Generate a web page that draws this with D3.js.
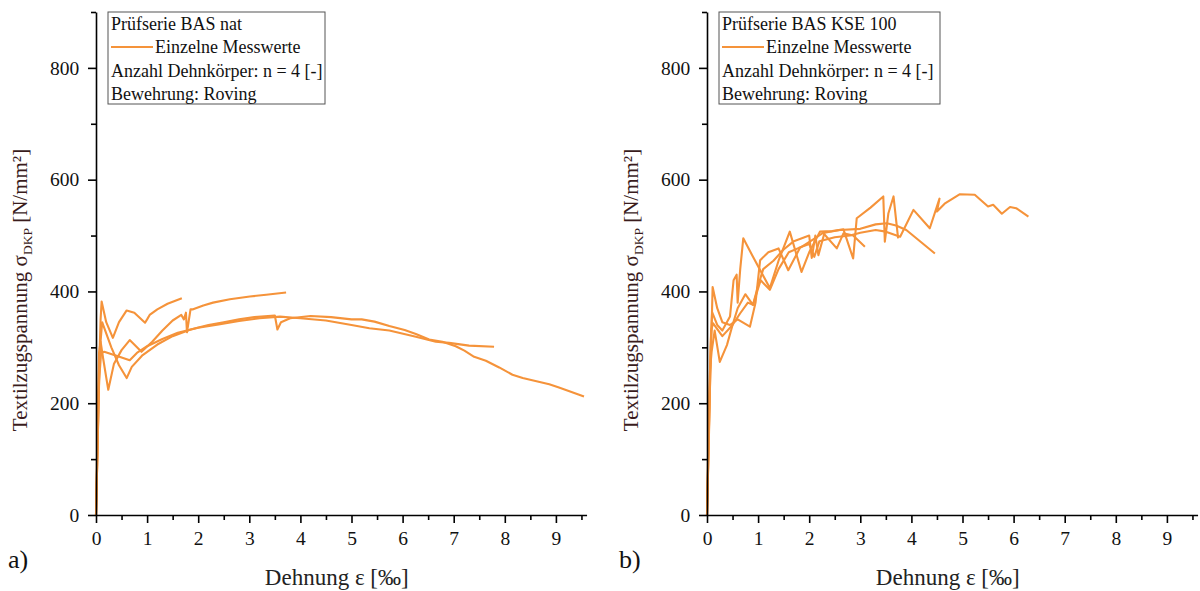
<!DOCTYPE html>
<html>
<head>
<meta charset="utf-8">
<script src="https://cdn.jsdelivr.net/npm/d3@7"></script>
<style>
  html, body { margin: 0; padding: 0; background: #fff; }
  svg { display: block; font-family: "Liberation Serif", "Times New Roman", serif; }
</style>
</head>
<body>
<svg id="chart" width="1200" height="591"></svg>
<script>
// Strain axis ticks [‰] and stress axis ticks [N/mm²]
const xMajorTicks = [0, 1, 2, 3, 4, 5, 6, 7, 8, 9];
const xMinorTicks = [0.5, 1.5, 2.5, 3.5, 4.5, 5.5, 6.5, 7.5, 8.5, 9.5];
const yMajorTicks = [0, 200, 400, 600, 800];
const yMinorTicks = [100, 300, 500, 700, 900];

// a) Prüfserie BAS nat – four specimens, [strain ‰, stress N/mm²]
const natSpecimen1 = [[0,0],[0.03,120],[0.06,260],[0.09,350],[0.11,382],[0.2,345],[0.33,317],[0.45,345],[0.6,366],[0.75,362],[0.96,344],[1.0,350],[1.05,358],[1.2,368],[1.4,378],[1.68,388]];
const natSpecimen2 = [[0,0],[0.02,80],[0.05,200],[0.08,300],[0.12,345],[0.3,300],[0.45,268],[0.6,245],[0.7,265],[0.9,285],[1.2,305],[1.5,320],[1.85,332],[2.2,340],[2.5,345],[2.8,350],[3.1,354],[3.5,357],[3.55,332],[3.62,345],[3.8,352],[4.2,356],[4.6,354],[5.0,350],[5.2,350],[5.45,346],[5.74,338],[6.04,331],[6.26,324],[6.52,314],[6.78,310],[7.04,302],[7.21,294],[7.4,283],[7.63,276],[7.89,264],[8.15,251],[8.35,245],[8.87,234],[9.06,228],[9.55,212]];
const natSpecimen3 = [[0,0],[0.03,150],[0.06,290],[0.09,310],[0.14,280],[0.24,224],[0.35,270],[0.5,295],[0.66,313],[0.89,292],[1.1,310],[1.3,330],[1.5,348],[1.67,358],[1.72,350],[1.76,362],[1.78,327],[1.85,368],[1.9,368],[2.1,375],[2.29,380],[2.62,386],[3.01,391],[3.33,394],[3.72,398]];
const natSpecimen4 = [[0,0],[0.03,120],[0.06,240],[0.1,290],[0.16,292],[0.4,285],[0.66,277],[0.8,290],[1.0,302],[1.3,315],[1.6,326],[2.0,335],[2.4,341],[2.8,347],[3.2,352],[3.6,355],[4.0,352],[4.5,348],[5.0,340],[5.35,334],[5.74,330],[6.26,319],[6.65,310],[6.91,308],[7.3,303],[7.79,301]];

// b) Prüfserie BAS KSE 100 – four specimens
const kseSpecimen1 = [[0,0],[0.02,80],[0.05,200],[0.08,300],[0.11,408],[0.2,370],[0.3,345],[0.45,340],[0.6,350],[0.84,337],[0.95,380],[1.04,456],[1.2,470],[1.4,477],[1.59,438],[1.82,478],[2.11,495],[2.27,505],[2.54,477],[2.67,504],[2.86,500],[3.09,480]];
const kseSpecimen2 = [[0,0],[0.03,120],[0.06,260],[0.09,292],[0.15,330],[0.25,274],[0.39,304],[0.5,340],[0.6,370],[0.75,395],[0.9,376],[1.0,410],[1.1,440],[1.3,455],[1.5,475],[1.7,490],[2.0,500],[2.05,460],[2.12,500],[2.18,465],[2.3,505],[2.6,510],[3.0,512],[3.3,520],[3.52,522],[3.7,518],[3.9,510],[4.46,468]];
const kseSpecimen3 = [[0,0],[0.03,150],[0.07,300],[0.1,363],[0.2,340],[0.3,330],[0.45,355],[0.52,420],[0.58,430],[0.6,380],[0.65,440],[0.71,495],[0.9,462],[1.23,406],[1.4,455],[1.62,507],[1.85,435],[2.0,470],[2.21,507],[2.45,508],[2.67,511],[2.86,459],[2.93,531],[3.2,550],[3.45,570],[3.48,489],[3.55,540],[3.65,570],[3.74,495]];
const kseSpecimen4 = [[0,0],[0.04,150],[0.08,330],[0.12,343],[0.3,320],[0.5,340],[0.65,361],[0.8,380],[0.9,376],[1.05,420],[1.23,403],[1.4,440],[1.6,470],[1.8,478],[2.0,485],[2.1,462],[2.2,490],[2.5,497],[2.8,500],[3.0,505],[3.3,510],[3.5,507],[3.78,498],[4.04,546],[4.36,513],[4.55,566],[4.5,543],[4.65,557],[4.95,574],[5.24,573],[5.5,552],[5.6,555],[5.77,539],[5.93,551],[6.05,549],[6.29,534]];

const legendTitles = ["Prüfserie BAS nat", "Prüfserie BAS KSE 100"];
const panelLabels = ["a)", "b)"];

const panels = [
  { left: 96,  series: [natSpecimen1, natSpecimen2, natSpecimen3, natSpecimen4], title: legendTitles[0], tag: panelLabels[0], boxWidth: 217 },
  { left: 707, series: [kseSpecimen1, kseSpecimen2, kseSpecimen3, kseSpecimen4], title: legendTitles[1], tag: panelLabels[1], boxWidth: 221 }
];

const svg = d3.select("#chart");
const lineColor = "#F5933A";
const plotTop = 12, plotBottom = 515;
const unitWidth = 51.1;

panels.forEach(p => {
  const x = d3.scaleLinear().domain([0, 9.6]).range([p.left, p.left + 9.6 * unitWidth]);
  const y = d3.scaleLinear().domain([0, 900]).range([plotBottom, plotTop]);
  const g = svg.append("g");

  // measurement curves
  const line = d3.line().x(d => x(d[0])).y(d => y(d[1]));
  g.selectAll("path.curve").data(p.series).join("path")
    .attr("class", "curve")
    .attr("d", line)
    .attr("fill", "none")
    .attr("stroke", lineColor)
    .attr("stroke-width", 2.1)
    .attr("stroke-linejoin", "round");

  // x axis
  const xAxis = g.append("g").attr("transform", `translate(0,${plotBottom})`)
    .call(d3.axisBottom(x).tickValues(xMajorTicks).tickSize(8).tickSizeOuter(0).tickFormat(d3.format("d")));
  g.append("g").attr("transform", `translate(0,${plotBottom})`)
    .call(d3.axisBottom(x).tickValues(xMinorTicks).tickSize(5).tickSizeOuter(0).tickFormat(""))
    .call(a => a.select(".domain").remove());

  // y axis
  const yAxis = g.append("g").attr("transform", `translate(${p.left},0)`)
    .call(d3.axisLeft(y).tickValues(yMajorTicks).tickSize(8).tickSizeOuter(0).tickFormat(d3.format("d")));
  g.append("g").attr("transform", `translate(${p.left},0)`)
    .call(d3.axisLeft(y).tickValues(yMinorTicks).tickSize(5).tickSizeOuter(0).tickFormat(""))
    .call(a => a.select(".domain").remove());

  g.selectAll(".domain, .tick line").attr("stroke", "#000").attr("stroke-width", 1.6);
  xAxis.selectAll("text").attr("font-size", 19.5).attr("fill", "#111").attr("dy", "0.95em").attr("font-family", "Liberation Serif");
  yAxis.selectAll("text").attr("font-size", 19.5).attr("fill", "#111").attr("dx", "-0.3em").attr("font-family", "Liberation Serif");

  // axis titles
  g.append("text")
    .attr("x", p.left + 4.75 * unitWidth - 2)
    .attr("y", 585)
    .attr("text-anchor", "middle")
    .attr("font-size", 23)
    .attr("fill", "#222")
    .text("Dehnung ε [‰]");

  const yt = g.append("text")
    .attr("transform", `translate(${p.left - 69},290) rotate(-90)`)
    .attr("text-anchor", "middle")
    .attr("font-size", 21)
    .attr("fill", "#3a1c1c");
  yt.append("tspan").text("Textilzugspannung σ");
  yt.append("tspan").attr("font-size", 13.5).attr("dy", 5).text("DKP");
  yt.append("tspan").attr("dy", -5).text(" [N/mm²]");

  // panel tag
  g.append("text")
    .attr("x", p.left - 88)
    .attr("y", 568)
    .attr("font-size", 26)
    .attr("fill", "#111")
    .text(p.tag);

  // legend box
  const lx = p.left + 12, ly = 12;
  const lg = g.append("g");
  lg.append("rect").attr("x", lx).attr("y", ly).attr("width", p.boxWidth).attr("height", 92)
    .attr("fill", "#fff").attr("stroke", "#555").attr("stroke-width", 1);
  const lines = [p.title, "Einzelne Messwerte", "Anzahl Dehnkörper: n = 4 [-]", "Bewehrung: Roving"];
  lines.forEach((t, i) => {
    lg.append("text")
      .attr("x", i === 1 ? lx + 47 : lx + 3)
      .attr("y", ly + 18 + i * 23.3)
      .attr("font-size", 18)
      .attr("fill", "#111")
      .text(t);
  });
  lg.append("line")
    .attr("x1", lx + 3).attr("x2", lx + 45)
    .attr("y1", ly + 35).attr("y2", ly + 35)
    .attr("stroke", lineColor).attr("stroke-width", 2);
});
</script>
</body>
</html>
